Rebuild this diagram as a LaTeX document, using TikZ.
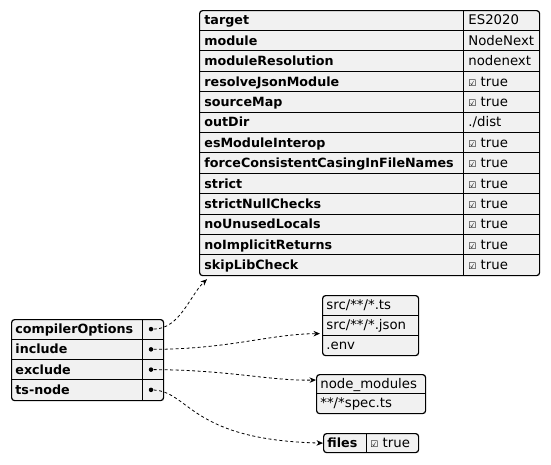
\documentclass[tikz,border=0pt]{standalone}
\usepackage{fontspec}
\setmainfont{DejaVu Sans}
\usetikzlibrary{arrows.meta}
\definecolor{cellgray}{HTML}{F1F1F1}
\newcommand{\boxtick}{{\fontsize{9}{10}\selectfont ☑}}

\begin{document}
\begin{tikzpicture}[x=1pt,y=-1pt, line width=0.8pt,
    tbl/.style={draw, line width=1.2pt, rounded corners=3pt, fill=cellgray, inner sep=0pt, anchor=north west},
    key/.style={anchor=west, inner sep=0pt, text height=9.2pt, text depth=0pt, font=\fontsize{12.7}{15}\selectfont\bfseries},
    val/.style={anchor=west, inner sep=0pt, text height=9.2pt, text depth=0pt, font=\fontsize{13.3}{15}\selectfont},
    pin/.style={circle, fill, inner sep=0pt, minimum size=4.5pt},
    link/.style={line width=0.8pt, dash pattern=on 3pt off 2.5pt, -{Stealth[length=6.5pt,width=5.5pt]}}
]
    \useasboundingbox (0,0) rectangle (551,464);

    %compilerOptions
    \node[tbl, minimum width=340pt, minimum height=265pt] (opts) at (199,10) {};
    \draw (463,10) -- (463,275);
    \foreach \i in {1,...,12} {
        \draw (199,10+20.4*\i) -- (539,10+20.4*\i);
    }
    \foreach \k/\v [count=\i from 0] in {target/ES2020, module/NodeNext, moduleResolution/nodenext,
        resolveJsonModule/{\boxtick\ true}, sourceMap/{\boxtick\ true}, outDir/{./dist},
        esModuleInterop/{\boxtick\ true}, forceConsistentCasingInFileNames/{\boxtick\ true},
        strict/{\boxtick\ true}, strictNullChecks/{\boxtick\ true}, noUnusedLocals/{\boxtick\ true},
        noImplicitReturns/{\boxtick\ true}, skipLibCheck/{\boxtick\ true}} {
        \node[key] (opt-k\i) at (204,20.2+20.4*\i) {\k};
        \node[val] (opt-v\i) at (468,20.2+20.4*\i) {\v};
    }

    %root
    \node[tbl, minimum width=152pt, minimum height=81pt] (root) at (11,319) {};
    \draw (142,319) -- (142,400);
    \foreach \i in {1,2,3} {
        \draw (11,319+20.25*\i) -- (163,319+20.25*\i);
    }
    \foreach \k [count=\i from 0] in {compilerOptions, include, exclude, ts-node} {
        \node[key] (root-k\i) at (15,329.1+20.25*\i) {\k};
        \node[pin] (pin\i) at (151,329.1+20.25*\i) {};
    }

    %include
    \node[tbl, minimum width=96pt, minimum height=60pt] (incl) at (322,295) {};
    \foreach \i in {1,2} {
        \draw (322,295+20*\i) -- (418,295+20*\i);
    }
    \foreach \v [count=\i from 0] in {{src/**/*.ts}, {src/**/*.json}, {.env}} {
        \node[val] (incl-v\i) at (326,305+20*\i) {\v};
    }

    %exclude
    \node[tbl, minimum width=109pt, minimum height=39pt] (excl) at (316,374) {};
    \draw (316,393.5) -- (425,393.5);
    \node[val] (excl-v0) at (320,383.75) {node\_modules};
    \node[val] (excl-v1) at (320,403.25) {**/*spec.ts};

    %ts-node
    \node[tbl, minimum width=95pt, minimum height=19pt] (files) at (323,433) {};
    \draw (366,433) -- (366,452);
    \node[key] (files-k) at (327,442.5) {files};
    \node[val] (files-v) at (370,442.5) {\boxtick\ true};

    %links
    \draw[link] (pin0) .. controls (180,329) and (190,295) .. ([shift={(8,3)}]opts.south west);
    \draw[link] (pin1) .. controls (230,349) and (270,334) .. ([shift={(-2,8)}]incl.west);
    \draw[link] (pin2) .. controls (230,370) and (270,381) .. ([shift={(0,6)}]excl.north west);
    \draw[link] (pin3) .. controls (190,392) and (190,440) .. (files.west);

\end{tikzpicture}
\end{document}
